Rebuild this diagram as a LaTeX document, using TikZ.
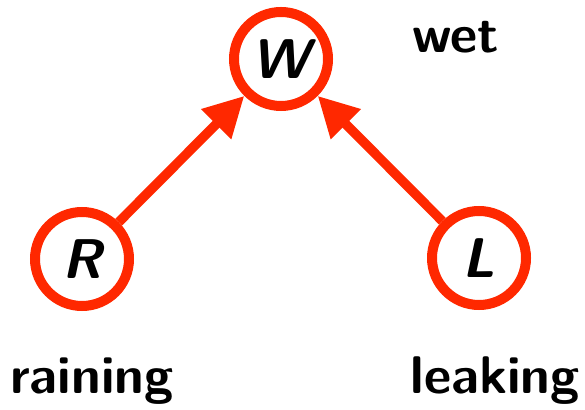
\documentclass[tikz,border=0pt]{standalone}
\usepackage{fontspec}
\usetikzlibrary{arrows.meta}
\definecolor{netred}{RGB}{255,40,0}
\begin{document}
\begin{tikzpicture}[x=1pt,y=1pt,
  varnode/.style={circle,draw=netred,line width=10pt,minimum size=94pt,inner sep=0pt,
    font=\fontsize{56}{60}\selectfont\sffamily\bfseries\itshape},
  lbl/.style={font=\fontsize{53}{60}\selectfont\sffamily\bfseries,inner sep=0pt},
  edge/.style={draw=netred,line width=9.5pt,-{Triangle[length=40pt,width=40pt]}}]
\useasboundingbox (0,0) rectangle (585,409);
\node[varnode] (W) at (281,350) {W};
\node[varnode] (R) at (82,150) {R};
\node[varnode] (L) at (479,151) {L};
\node[lbl,anchor=base] (wet) at (456,356) {wet};
\node[lbl,anchor=base west] (raining) at (10,16) {raining};
\node[lbl,anchor=base east] (leaking) at (580,16) {leaking};
\draw[edge] (R) -- (W);
\draw[edge] (L) -- (W);
\end{tikzpicture}
\end{document}
